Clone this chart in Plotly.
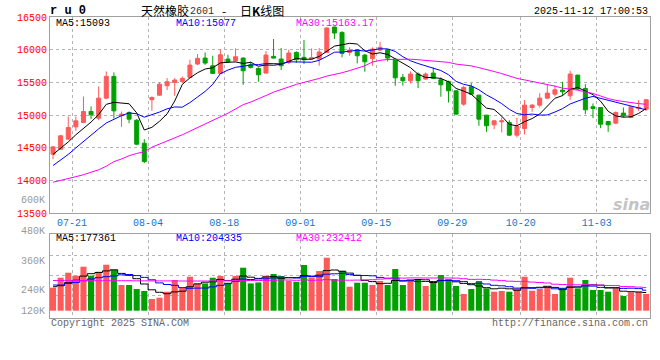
import plotly.graph_objects as go

dates = ["07-17","07-18","07-21","07-22","07-23","07-24","07-25","07-28","07-29","07-30","07-31",
         "08-01","08-04","08-05","08-06","08-07","08-08","08-11","08-12","08-13","08-14","08-15",
         "08-18","08-19","08-20","08-21","08-22","08-25","08-26","08-27","08-28","08-29",
         "09-01","09-02","09-03","09-04","09-05","09-08","09-09","09-10","09-11","09-12",
         "09-15","09-16","09-17","09-18","09-19","09-22","09-23","09-24","09-25","09-26","09-29","09-30",
         "10-09","10-10","10-13","10-14","10-15","10-16","10-17","10-20","10-21","10-22","10-23","10-24",
         "10-27","10-28","10-29","10-30","10-31",
         "11-03","11-04","11-05","11-06","11-07","11-10","11-11","11-12"]
tick_labels = ["07-21","08-04","08-18","09-01","09-15","09-29","10-20","11-03"]

open_ = [14403,14480,14633,14821,14888,15056,14954,15260,15592,14990,15041,14923,14571,15235,15306,15449,15500,15515,15577,15781,
         15872,15755,15638,15857,15832,15872,15770,15714,15643,15898,15857,15806,15959,15883,15857,15857,15959,16347,16265,15959,
         16000,15918,15867,15995,16000,15857,15577,15526,15628,15551,15643,15541,15515,15372,15168,15434,15306,15000,14852,14898,
         14888,14694,14796,15117,15153,15260,15321,15383,15296,15612,15408,15128,15117,14903,14878,15031,14964,15102,15092]
high = [14531,14699,14980,14980,15286,15133,15439,15668,15653,15056,15056,14939,14633,15286,15500,15566,15566,15592,15847,15934,
        15959,15908,16010,15923,16020,15883,15816,15730,15980,16163,16026,16000,15975,16148,16020,16026,16340,16350,16281,16036,
        16010,15934,16036,16122,16010,15860,15628,15668,15653,15653,15730,15577,15526,15380,15449,15490,15310,15005,14923,14964,
        14923,14959,15230,15168,15337,15474,15449,15510,15679,15612,15474,15179,15117,14913,15056,15117,15128,15230,15245]
low = [14327,14470,14622,14760,14878,14939,14923,15245,14949,14821,14878,14541,14265,15066,15296,15383,15296,15490,15561,15765,
       15770,15628,15628,15796,15816,15464,15714,15510,15643,15867,15689,15781,15800,15781,15847,15755,15955,16163,15883,15908,
       15791,15663,15755,15980,15821,15449,15449,15485,15413,15541,15551,15281,15194,15010,15143,15306,14837,14745,14786,14735,
       14684,14658,14704,15051,15117,15245,15286,15296,15235,15383,15015,14954,14801,14745,14862,14964,14954,15066,15066]
close = [14515,14684,14811,14913,15056,15005,15260,15592,15066,15015,14939,14556,14291,15270,15474,15510,15536,15561,15765,15867,
         15796,15638,15923,15816,15893,15679,15730,15617,15918,15872,15755,15949,15847,15847,15878,15964,16332,16255,15944,15995,
         15908,15816,16010,16036,15872,15571,15526,15628,15526,15628,15561,15464,15372,15015,15423,15321,14939,14837,14913,14913,
         14694,14827,15153,15153,15260,15337,15388,15357,15628,15398,15082,15102,14862,14852,15041,14990,15128,15117,15235]

ma5 = [14400,14490,14590,14700,14796,14894,15009,15165,15196,15188,15174,15034,14773,14814,14906,15020,15216,15470,15569,15648,
       15705,15725,15798,15808,15813,15790,15808,15747,15767,15763,15778,15822,15868,15854,15855,15897,15974,16055,16075,16098,
       16087,15984,15935,15953,15928,15861,15803,15727,15625,15576,15574,15561,15510,15408,15367,15319,15214,15107,15087,14985,
       14859,14837,14900,14948,15017,15146,15258,15299,15394,15422,15371,15313,15214,15059,14988,14969,14975,15026,15102]
ma10 = [14230,14310,14400,14500,14600,14690,14790,14880,14940,14992,15034,15021,14969,15005,15047,15097,15125,15122,15192,15277,
        15363,15471,15634,15689,15731,15747,15767,15772,15788,15788,15784,15815,15808,15811,15809,15838,15898,15962,15964,15977,
        15992,15979,15995,16014,16013,15974,15893,15831,15789,15752,15717,15682,15618,15516,15471,15446,15388,15309,15247,15176,
        15089,15025,15004,15017,15001,15003,15048,15100,15171,15220,15258,15286,15257,15227,15205,15170,15144,15120,15081]
ma30 = [13975,14000,14030,14060,14090,14130,14165,14220,14290,14330,14380,14415,14440,14510,14555,14605,14650,14700,14755,14810,
        14860,14920,14980,15030,15095,15160,15200,15255,15300,15352,15394,15436,15470,15501,15529,15561,15597,15619,15648,15681,
        15713,15755,15812,15838,15851,15853,15853,15855,15847,15839,15831,15825,15807,15780,15765,15753,15726,15700,15667,15635,
        15599,15562,15539,15516,15495,15474,15443,15413,15402,15382,15355,15331,15293,15253,15226,15206,15193,15176,15166]

volume = [230,330,380,350,440,350,390,460,407,257,257,217,197,117,130,190,307,230,340,273,
          273,330,347,280,347,430,273,283,350,367,347,300,290,457,333,397,530,317,397,240,
          280,280,257,297,257,417,257,307,317,247,283,357,313,247,167,217,297,223,190,197,
          190,223,340,200,217,240,167,230,330,223,307,207,207,190,223,147,184,190,167]
vma5 = [240,250,280,305,346,370,382,398,409,373,354,320,267,209,184,170,188,195,239,268,
        285,289,313,301,315,347,335,323,337,341,324,329,331,352,345,355,401,407,395,376,
        353,303,291,271,274,302,297,307,311,309,282,302,303,289,273,260,248,230,219,225,
        219,205,228,230,234,244,233,211,237,238,251,259,255,227,227,195,190,187,182]
vma10 = [257,257,273,283,300,317,330,340,347,359,362,351,333,309,278,262,254,231,224,226,
         227,239,254,270,292,316,312,318,319,328,335,332,327,344,343,340,365,369,374,361,
         354,352,349,333,325,327,300,299,291,292,292,300,305,300,291,271,275,267,254,249,
         240,226,229,224,229,232,219,219,233,236,248,246,233,232,232,223,225,221,205]
vma30 = [302,302,301,301,301,300,300,300,300,300,300,299,299,298,298,298,298,297,297,297,
         297,298,298,299,300,301,302,302,303,304,308,307,304,308,304,306,311,306,305,305,
         306,308,310,316,320,328,326,328,328,327,327,328,327,326,320,313,314,312,306,301,
         295,293,294,286,282,277,265,262,259,259,260,257,256,252,251,242,240,236,231]

RED = "#ff5a5a"
GREEN = "#00a000"
GRID = "#b4b4b4"
BORDER = "#a0a0a0"
MONO = "Liberation Mono, DejaVu Sans Mono, monospace"

n = len(dates)
x = list(range(n))
vol = [v * 1000 for v in volume]
vcolors = [RED if c >= o else GREEN for o, c in zip(open_, close)]
tickpos = [dates.index(t) + 0.5 for t in tick_labels]

fig = go.Figure()
fig.add_trace(go.Candlestick(
    x=x, open=open_, high=high, low=low, close=close,
    increasing=dict(line=dict(color=RED, width=1), fillcolor=RED),
    decreasing=dict(line=dict(color=GREEN, width=1), fillcolor=GREEN),
    whiskerwidth=0, xaxis="x", yaxis="y", hoverinfo="skip", showlegend=False))
for arr, col in [(ma5, "#000000"), (ma10, "#0000ff"), (ma30, "#ff00ff")]:
    fig.add_trace(go.Scatter(x=x, y=arr, mode="lines", line=dict(color=col, width=1),
                             xaxis="x", yaxis="y", hoverinfo="skip", showlegend=False))

fig.add_trace(go.Bar(x=x, y=vol, marker=dict(color=vcolors, line=dict(width=0)),
                     xaxis="x2", yaxis="y2", hoverinfo="skip", showlegend=False))
for arr, col in [(vma5, "#000000"), (vma10, "#0000ff"), (vma30, "#ff00ff")]:
    fig.add_trace(go.Scatter(x=x, y=[v * 1000 for v in arr], mode="lines",
                             line=dict(color=col, width=1, shape="hvh"),
                             xaxis="x2", yaxis="y2", hoverinfo="skip", showlegend=False))

top_px, bot_px = 17, 318
H = bot_px - top_px
def dom(y_top, y_bot):
    return [(bot_px - y_bot) / H, (bot_px - y_top) / H]

xr = [-0.4, n - 0.5]
fig.update_layout(
    width=660, height=360,
    margin=dict(l=50, r=10, t=top_px, b=360 - bot_px),
    paper_bgcolor="white", plot_bgcolor="white",
    boxgap=0.25, bargap=0.2,
    xaxis=dict(domain=[0, 1], range=xr, anchor="y", rangeslider=dict(visible=False),
               tickmode="array", tickvals=tickpos, ticktext=tick_labels,
               tickfont=dict(family=MONO, size=10, color="#1874cd"),
               ticks="", showgrid=True, gridcolor=GRID, griddash="dot", gridwidth=1,
               showline=True, linecolor=BORDER, mirror=True, zeroline=False),
    yaxis=dict(domain=dom(17, 213.3), range=[13500, 16500], anchor="x",
               tickmode="array", tickvals=[13500, 14000, 14500, 15000, 15500, 16000, 16500],
               ticktext=["13500", "14000", "14500", "15000", "15500", "16000", "16500"],
               tickfont=dict(family=MONO, size=10, color="#ff0000"),
               ticks="", showgrid=True, gridcolor=GRID, griddash="dot", gridwidth=1,
               showline=True, linecolor=BORDER, mirror=True, zeroline=False),
    xaxis2=dict(domain=[0, 1], range=xr, anchor="y2", matches="x",
                tickmode="array", tickvals=tickpos, showticklabels=False, ticks="",
                showgrid=True, gridcolor=GRID, griddash="dot", gridwidth=1,
                showline=True, linecolor=BORDER, mirror=True, zeroline=False),
    yaxis2=dict(domain=dom(234.3, 318), range=[-73000, 764000], anchor="x2",
                tickmode="array", tickvals=[157000, 357000, 557000], showticklabels=False, ticks="",
                showgrid=True, gridcolor=GRID, griddash="dot", gridwidth=1,
                showline=True, linecolor=BORDER, mirror=True, zeroline=False),
)

def px_x(px):
    return (px - 50) / 600
def px_y(py):
    return (bot_px - py) / H

def note(text, xp, yp, color="#000000", size=10, family=MONO, anchor="left", bold=False):
    if bold:
        text = "<b>" + text + "</b>"
    fig.add_annotation(text=text, x=px_x(xp), y=px_y(yp), xref="paper", yref="paper",
                       xanchor=anchor, yanchor="middle", showarrow=False,
                       font=dict(family=family, size=size, color=color))

CJK = "Noto Sans CJK SC"
note("r u 0", 48, 11.5, size=12, bold=True)
note("天然橡胶", 139, 10.5, size=12, family=CJK)
note("2601", 188, 11, color="#333333", size=10)
note("-", 220, 10.5, size=12, family=CJK)
note("日<b>K</b>线图", 238, 10.5, size=12, family=CJK)
note("2025-11-12 17:00:53", 650, 11.5, anchor="right")

note("MA5:15093", 54, 23.5)
note("MA10:15077", 174, 23.5, color="#0000ff")
note("MA30:15163.17", 294, 23.5, color="#ff00ff")

note("MA5:177361", 54, 238.5)
note("MA10:204335", 174, 238.5, color="#0000ff")
note("MA30:232412", 294, 238.5, color="#ff00ff")

for lab, yy in [("600K", 200), ("480K", 231), ("360K", 261), ("240K", 290), ("120K", 311)]:
    note(lab, 47, yy, color="#999999", anchor="right")

note("Copyright 2025 SINA.COM", 49, 323.5, color="#666666")
note("http://finance.sina.com.cn", 650, 323.5, color="#666666", anchor="right")
note("<i><b>sina</b></i>", 652, 204, color="#c4c4c4", size=16, family="DejaVu Sans", anchor="right")

fig.write_html("out.html", config={"displayModeBar": False, "staticPlot": True},
               post_script="document.body.style.margin='0';document.body.style.overflow='hidden';")
